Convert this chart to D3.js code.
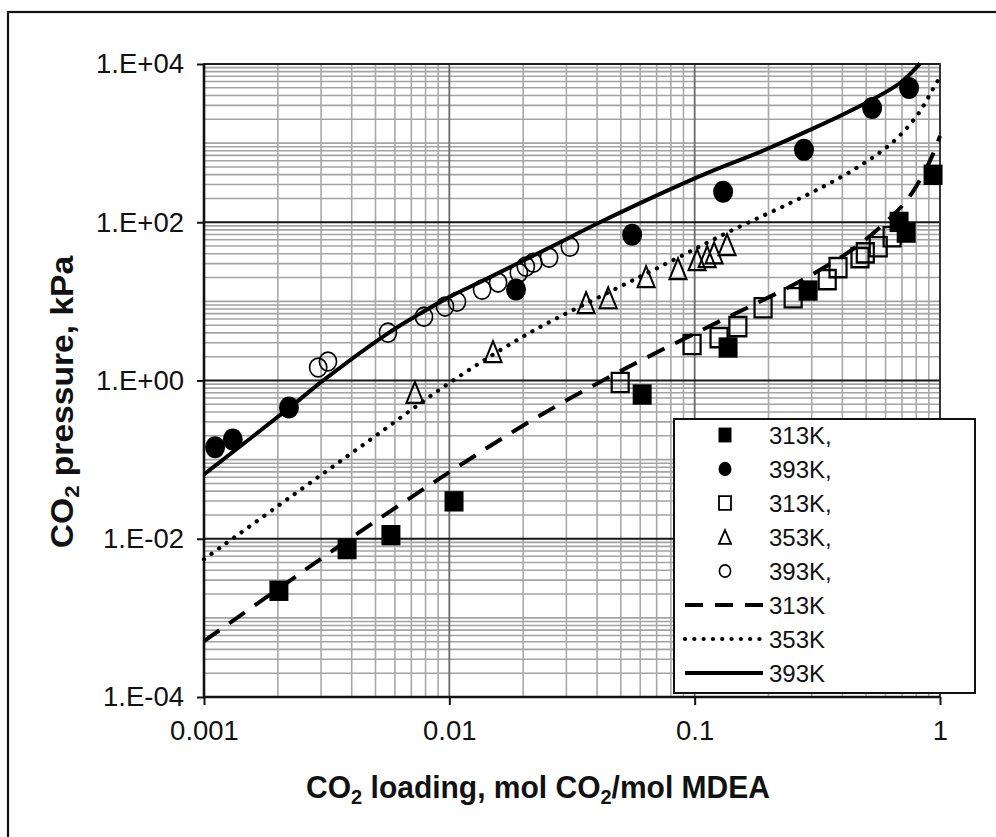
<!DOCTYPE html>
<html>
<head>
<meta charset="utf-8">
<script src="https://cdn.jsdelivr.net/npm/d3@7"></script>
<style>
  html, body { margin: 0; padding: 0; background: #fff; }
  svg { display: block; }
  text { font-family: "Liberation Sans", Arial, sans-serif; fill: #111; }
</style>
</head>
<body>
<script>
// ---------- data ----------
const xTicks = [0.001, 0.01, 0.1, 1];
const xTickLabels = ["0.001", "0.01", "0.1", "1"];
const yTicks = [1e4, 1e2, 1, 1e-2, 1e-4];
const yTickLabels = ["1.E+04", "1.E+02", "1.E+00", "1.E-02", "1.E-04"];

// experimental points
const sq313X = [0.00202, 0.00383, 0.00578, 0.01045, 0.0611, 0.1368, 0.29, 0.681, 0.728, 0.937];
const sq313Y = [0.0022, 0.0074, 0.0111, 0.0297, 0.665, 2.61, 13.7, 101, 74, 398];

const dot393X = [0.00111, 0.00131, 0.00222, 0.0187, 0.0556, 0.1306, 0.279, 0.529, 0.748];
const dot393Y = [0.143, 0.18, 0.457, 14.1, 69.5, 243, 822, 2785, 4980];

const osq313X = [0.0497, 0.0976, 0.1257, 0.150, 0.190, 0.252, 0.347, 0.384, 0.472, 0.496, 0.56, 0.638];
const osq313Y = [0.944, 2.85, 3.49, 4.8, 8.3, 11.1, 18.8, 26.7, 35.7, 41, 49, 65.6];

const tri353X = [0.00724, 0.01507, 0.0361, 0.0444, 0.0634, 0.0855, 0.1023, 0.1124, 0.12, 0.1355];
const tri353Y = [0.706, 2.32, 9.64, 11.1, 20.5, 25.9, 33.6, 36.7, 41, 52];

const ocir393X = [0.00292, 0.0032, 0.00562, 0.00788, 0.0096, 0.01074, 0.0136, 0.0158, 0.0192, 0.0205, 0.0220, 0.0255, 0.0310];
const ocir393Y = [1.46, 1.74, 4.03, 6.4, 8.6, 9.9, 14.1, 17.3, 23, 27.5, 30.8, 35.7, 49];

// model curves
const line313X = [0.001, 0.002, 0.00401, 0.00997, 0.02343, 0.0561, 0.1269, 0.269, 0.43, 0.57, 0.7208, 0.8296, 0.9373, 1.0];
const line313Y = [0.000509, 0.00231, 0.01044, 0.069, 0.3618, 1.592, 5.635, 18.0, 43.1, 86.5, 178.8, 343.8, 731.8, 1234];

const line353X = [0.001, 0.002242, 0.00475, 0.01007, 0.02133, 0.04519, 0.07937, 0.1355, 0.2955, 0.472, 0.6438, 0.8067, 0.9373, 1.0];
const line353Y = [0.00551, 0.03339, 0.1775, 0.9436, 4.034, 13.27, 31.73, 73.7, 232.2, 516.4, 1037, 2239, 4836, 6855];

const line393X = [0.001, 0.00224, 0.00311, 0.00562, 0.0076, 0.01007, 0.01426, 0.0265, 0.0423, 0.0723, 0.1155, 0.185, 0.295, 0.472, 0.687, 0.83];
const line393Y = [0.065, 0.457, 1.04, 3.95, 7.0, 11.48, 19.37, 50.5, 104.4, 228.8, 433.7, 776, 1469, 2951, 5757, 10200];

const legendLabels = ["313K,", "393K,", "313K,", "353K,", "393K,", "313K", "353K", "393K"];

// ---------- layout ----------
const W = 996, H = 837;
const svg = d3.select("body").append("svg").attr("width", W).attr("height", H);

const x = d3.scaleLog().domain([0.001, 1]).range([204, 940]);
const y = d3.scaleLog().domain([1e-4, 1e4]).range([697, 64]);

// outer frame
svg.append("rect").attr("x", 8).attr("y", 12).attr("width", 1100).attr("height", 1000)
  .attr("fill", "none").attr("stroke", "#111").attr("stroke-width", 2.2);

const g = svg.append("g");

function minorVals(lo, hi) {
  const out = [];
  for (let e = lo; e < hi; e++) {
    for (let k = 1; k <= 9; k++) out.push(k * Math.pow(10, e));
  }
  return out;
}
const yMinor = minorVals(-4, 4).filter(v => {
  const l = Math.round(Math.log10(v) * 1000) / 1000;
  return !(Number.isInteger(l) && l % 2 === 0);
});
const xMinor = minorVals(-3, 0).filter(v => {
  const l = Math.log10(v);
  return Math.abs(l - Math.round(l)) > 1e-6;
});
const xMajorInner = [0.01, 0.1];

g.selectAll(".ymin").data(yMinor).join("line")
  .attr("x1", x(0.001)).attr("x2", x(1))
  .attr("y1", d => y(d)).attr("y2", d => y(d))
  .attr("stroke", "#a3a3a3").attr("stroke-width", 1.6);

g.selectAll(".xmin").data(xMinor).join("line")
  .attr("x1", d => x(d)).attr("x2", d => x(d))
  .attr("y1", y(1e4)).attr("y2", y(1e-4))
  .attr("stroke", "#a8a8a8").attr("stroke-width", 1.6);

g.selectAll(".xmaj").data(xMajorInner).join("line")
  .attr("x1", d => x(d)).attr("x2", d => x(d))
  .attr("y1", y(1e4)).attr("y2", y(1e-4))
  .attr("stroke", "#6a6a6a").attr("stroke-width", 1.8);

g.selectAll(".ymaj").data(yTicks).join("line")
  .attr("x1", x(0.001)).attr("x2", x(1))
  .attr("y1", d => y(d)).attr("y2", d => y(d))
  .attr("stroke", "#151515").attr("stroke-width", 1.8);

// plot border
g.append("rect").attr("x", x(0.001)).attr("y", y(1e4))
  .attr("width", x(1) - x(0.001)).attr("height", y(1e-4) - y(1e4))
  .attr("fill", "none").attr("stroke", "#222").attr("stroke-width", 1.8);
g.append("line").attr("x1", x(0.001)).attr("x2", x(0.001)).attr("y1", y(1e4)).attr("y2", y(1e-4) + 1)
  .attr("stroke", "#111").attr("stroke-width", 2.6);
g.append("line").attr("x1", x(0.001) - 1).attr("x2", x(1)).attr("y1", y(1e-4)).attr("y2", y(1e-4))
  .attr("stroke", "#111").attr("stroke-width", 2.6);

// axes (ticks + labels)
const yAxis = d3.axisLeft(y).tickValues(yTicks).tickSize(7).tickPadding(13)
  .tickFormat((d, i) => yTickLabels[i]);
const ya = g.append("g").attr("transform", `translate(${x(0.001)},0)`).call(yAxis);
ya.select(".domain").remove();
ya.selectAll(".tick line").attr("stroke", "#111").attr("stroke-width", 2);
ya.selectAll(".tick text").attr("font-size", 27.5).attr("fill", "#111")
  .attr("font-family", '"Liberation Sans", Arial, sans-serif');

const xAxis = d3.axisBottom(x).tickValues(xTicks).tickSize(8).tickPadding(15)
  .tickFormat((d, i) => xTickLabels[i]);
const xa = g.append("g").attr("transform", `translate(0,${y(1e-4)})`).call(xAxis);
xa.select(".domain").remove();
xa.selectAll(".tick line").attr("stroke", "#111").attr("stroke-width", 2);
xa.selectAll(".tick text").attr("font-size", 27.5).attr("fill", "#111")
  .attr("font-family", '"Liberation Sans", Arial, sans-serif');

// ---------- markers ----------
const zip = (xs, ys) => xs.map((v, i) => [v, ys[i]]);
const sy = 1.1; // markers slightly taller than wide in the picture

function rectPath(w, h) {
  return `M${-w/2},${-h/2}h${w}v${h}h${-w}Z`;
}
function triPath(w, h) {
  return `M0,${-h/2}L${w/2},${h/2}L${-w/2},${h/2}Z`;
}
function circPath(r) {
  return d3.arc()({innerRadius: 0, outerRadius: r, startAngle: 0, endAngle: 2 * Math.PI});
}

const mk = g.append("g");
mk.selectAll(".s313").data(zip(sq313X, sq313Y)).join("path")
  .attr("d", rectPath(19, 18.5)).attr("transform", d => `translate(${x(d[0])},${y(d[1])}) scale(1,${sy})`)
  .attr("fill", "#000");
mk.selectAll(".d393").data(zip(dot393X, dot393Y)).join("path")
  .attr("d", circPath(10)).attr("transform", d => `translate(${x(d[0])},${y(d[1])}) scale(1,${sy})`)
  .attr("fill", "#000");
mk.selectAll(".os313").data(zip(osq313X, osq313Y)).join("path")
  .attr("d", rectPath(17, 17.5)).attr("transform", d => `translate(${x(d[0])},${y(d[1])}) scale(1,${sy})`)
  .attr("fill", "none").attr("stroke", "#000").attr("stroke-width", 2.2);
mk.selectAll(".t353").data(zip(tri353X, tri353Y)).join("path")
  .attr("d", triPath(17, 19)).attr("transform", d => `translate(${x(d[0])},${y(d[1])}) scale(1,${sy})`)
  .attr("fill", "none").attr("stroke", "#000").attr("stroke-width", 2).attr("stroke-linejoin", "miter");
mk.selectAll(".c393").data(zip(ocir393X, ocir393Y)).join("path")
  .attr("d", circPath(8.6)).attr("transform", d => `translate(${x(d[0])},${y(d[1])}) scale(1,${sy})`)
  .attr("fill", "none").attr("stroke", "#000").attr("stroke-width", 1.6);

// ---------- model lines ----------
const lineGen = d3.line().x(d => x(d[0])).y(d => y(d[1])).curve(d3.curveCatmullRom.alpha(0.5));
const styles = {
  dashed: {w: 4, dash: "19,12", cap: "butt"},
  dotted: {w: 4.2, dash: "0.1,9.2", cap: "round"},
  solid:  {w: 4, dash: null, cap: "butt"}
};
function drawLine(sel, data, st) {
  const p = sel.append("path").attr("d", lineGen(data)).attr("fill", "none")
    .attr("stroke", "#000").attr("stroke-width", st.w).attr("stroke-linecap", st.cap)
    .attr("stroke-linejoin", "round");
  if (st.dash) p.attr("stroke-dasharray", st.dash);
}
drawLine(g, zip(line313X, line313Y), styles.dashed);
drawLine(g, zip(line353X, line353Y), styles.dotted);
drawLine(g, zip(line393X, line393Y), styles.solid);

// ---------- axis titles ----------
const xt = svg.append("text").attr("transform", "translate(538,798) scale(1,1.05)").attr("text-anchor", "middle")
  .attr("font-size", 30).attr("font-weight", "bold");
xt.append("tspan").text("CO");
xt.append("tspan").text("2").attr("font-size", 20).attr("dy", 6);
xt.append("tspan").text(" loading, mol CO").attr("dy", -6);
xt.append("tspan").text("2").attr("font-size", 20).attr("dy", 6);
xt.append("tspan").text("/mol MDEA").attr("dy", -6);

const yt = svg.append("text").attr("transform", "translate(73,402) scale(1,1.05) rotate(-90)")
  .attr("text-anchor", "middle").attr("font-size", 32).attr("font-weight", "bold");
yt.append("tspan").text("CO");
yt.append("tspan").text("2").attr("font-size", 21).attr("dy", 6);
yt.append("tspan").text(" pressure, kPa").attr("dy", -6);

// ---------- legend ----------
const lg = svg.append("g");
const lgBox = {x0: 674, y0: 419, x1: 975, y1: 693};
lg.append("rect").attr("x", lgBox.x0).attr("y", lgBox.y0)
  .attr("width", lgBox.x1 - lgBox.x0).attr("height", lgBox.y1 - lgBox.y0)
  .attr("fill", "#fff").attr("stroke", "#111").attr("stroke-width", 2);

const rowY = d3.scaleLinear().domain([0, 7]).range([435, 673]);
const symX = 725, txtX = 769;
const legendMarkers = [
  {d: rectPath(13, 13.5), fill: "#000", stroke: "none", sw: 0},
  {d: circPath(6.5), fill: "#000", stroke: "none", sw: 0},
  {d: rectPath(12, 12.5), fill: "none", stroke: "#000", sw: 1.8},
  {d: triPath(12, 12.5), fill: "none", stroke: "#000", sw: 1.8},
  {d: circPath(5.6), fill: "none", stroke: "#000", sw: 1.6}
];
legendMarkers.forEach((m, i) => {
  lg.append("path").attr("d", m.d)
    .attr("transform", `translate(${symX},${rowY(i)}) scale(1,${sy})`)
    .attr("fill", m.fill).attr("stroke", m.stroke).attr("stroke-width", m.sw);
});
const legendLines = [styles.dashed, styles.dotted, styles.solid];
legendLines.forEach((st, j) => {
  const yy = rowY(5 + j);
  const p = lg.append("line").attr("x1", 685).attr("x2", 763).attr("y1", yy).attr("y2", yy)
    .attr("stroke", "#000").attr("stroke-width", st.w).attr("stroke-linecap", st.cap);
  if (st.dash) p.attr("stroke-dasharray", j === 0 ? "18,12" : st.dash);
});
lg.selectAll(".lt").data(legendLabels).join("text")
  .attr("x", txtX).attr("y", (d, i) => rowY(i)).attr("dy", "0.36em")
  .attr("font-size", 24).text(d => d);
</script>
</body>
</html>
